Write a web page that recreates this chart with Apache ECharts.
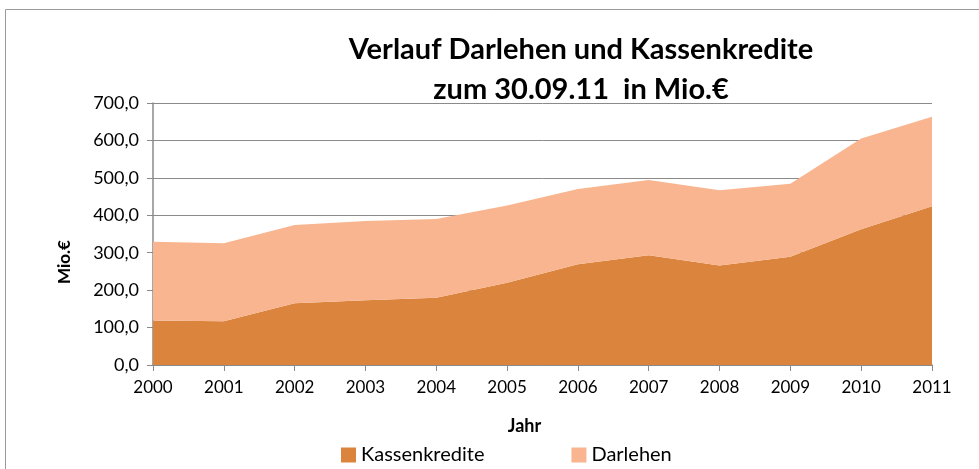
<!DOCTYPE html>
<html lang="de">
<head>
<meta charset="UTF-8">
<title>Verlauf Darlehen und Kassenkredite</title>
<style>
  html, body { margin: 0; padding: 0; background: #fff; }
  #main { width: 979px; height: 469px; }
</style>
</head>
<body>
<div id="main"></div>
<script src="https://cdn.jsdelivr.net/npm/echarts@6/dist/echarts.min.js"></script>
<script>
var years = ['2000', '2001', '2002', '2003', '2004', '2005', '2006', '2007', '2008', '2009', '2010', '2011'];
var kassenkredite = [119, 117, 165, 173, 180, 220, 269, 293, 266, 289, 363, 424];
var darlehen = [210, 208, 209, 212, 210, 206, 201, 201, 201, 195, 242, 239];

var font = 'Lato';
var myChart = echarts.init(document.getElementById('main'));

var option = {
    animation: false,
    title: {
        text: 'Verlauf Darlehen und Kassenkredite\nzum 30.09.11  in Mio.€',
        left: 576,
        textAlign: 'center',
        top: 25,
        textStyle: {
            fontFamily: font,
            fontWeight: 'bold',
            fontSize: 29,
            lineHeight: 40,
            color: '#000'
        }
    },
    graphic: [{
        type: 'rect',
        shape: { x: 5.5, y: 9.5, width: 1000, height: 480 },
        style: { fill: 'none', stroke: '#9a9a9a', lineWidth: 1 },
        silent: true
    }],
    legend: {
        top: 440,
        left: 336,
        itemWidth: 15,
        itemHeight: 15,
        itemGap: 87,
        icon: 'rect',
        textStyle: { fontFamily: font, fontSize: 20, color: '#000' },
        data: ['Kassenkredite', 'Darlehen']
    },
    grid: { left: 153, right: 47, top: 103, bottom: 104 },
    xAxis: {
        type: 'category',
        boundaryGap: false,
        data: years,
        name: 'Jahr',
        nameLocation: 'middle',
        nameGap: 52,
        nameTextStyle: {
            fontFamily: font, fontWeight: 'bold', fontSize: 18, color: '#000',
            padding: [0, 36, 0, 0]
        },
        axisLine: { lineStyle: { color: '#8a8a8a', width: 1.5 } },
        axisTick: { show: true, length: 6, lineStyle: { color: '#8a8a8a' } },
        axisLabel: { fontFamily: font, fontSize: 17, color: '#000', margin: 14 }
    },
    yAxis: {
        type: 'value',
        min: 0,
        max: 700,
        interval: 100,
        name: 'Mio.€',
        nameLocation: 'middle',
        nameGap: 80,
        nameRotate: 90,
        nameTextStyle: {
            fontFamily: font, fontWeight: 'bold', fontSize: 17, color: '#000',
            padding: [0, 56, 0, 0]
        },
        axisLine: { show: true, lineStyle: { color: '#8a8a8a', width: 1.5 } },
        axisTick: { show: true, length: 6, lineStyle: { color: '#8a8a8a' } },
        splitLine: { lineStyle: { color: '#8a8a8a', width: 1 } },
        axisLabel: {
            fontFamily: font, fontSize: 18, color: '#000', margin: 14,
            formatter: function (v) { return v.toFixed(1).replace('.', ','); }
        }
    },
    series: [{
        name: 'Kassenkredite',
        type: 'line',
        stack: 'total',
        data: kassenkredite,
        symbol: 'none',
        lineStyle: { width: 0 },
        itemStyle: { color: '#db843d' },
        areaStyle: { color: '#db843d', opacity: 1 }
    }, {
        name: 'Darlehen',
        type: 'line',
        stack: 'total',
        data: darlehen,
        symbol: 'none',
        lineStyle: { width: 0 },
        itemStyle: { color: '#f8b590' },
        areaStyle: { color: '#f8b590', opacity: 1 }
    }]
};

myChart.setOption(option);
</script>
</body>
</html>
